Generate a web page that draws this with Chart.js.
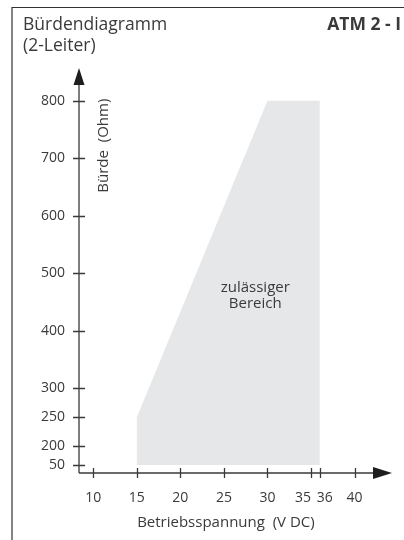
<!DOCTYPE html>
<html><head><meta charset="utf-8">
<script src="https://cdn.jsdelivr.net/npm/chart.js@4/dist/chart.umd.min.js"></script>
<style>
html,body{margin:0;padding:0;background:#fff;}
canvas{display:block;}
</style></head><body>
<canvas id="c" width="404" height="540"></canvas>
<script>
// ---- data ----
const voltageTicks = [10, 15, 20, 25, 30, 35, 36, 40];
const loadTicks = [50, 200, 250, 300, 400, 500, 600, 700, 800];
const areaVoltage = [15, 15, 30, 36, 36, 15];
const areaLoad = [50, 250, 800, 800, 50, 50];
const titleLines = ['Bürdendiagramm', '(2-Leiter)'];
const modelLabel = 'ATM 2 - I';
const xTitle = 'Betriebsspannung  (V DC)';
const yTitle = 'Bürde  (Ohm)';
const areaLabel = ['zulässiger', 'Bereich'];
const areaLabelVoltage = 28.6;
const areaLabelLoad = 464;

// ---- styling ----
const FONT = "'Open Sans', 'DejaVu Sans', sans-serif";
const INK = '#3a3a3a';
const FILL = '#e6e7e8';
const labelNudge = {'35': -8, '36': 5};

// piecewise (broken) load axis: below BREAK the scale is compressed
const BREAK = 200, COMPRESS = 0.22;
class PiecewiseScale extends Chart.LinearScale {
  _tr(v) { return v >= BREAK ? v : BREAK - (BREAK - v) * COMPRESS; }
  _inv(t) { return t >= BREAK ? t : BREAK - (BREAK - t) / COMPRESS; }
  getPixelForValue(value) {
    const a = this._tr(this.min), b = this._tr(this.max);
    return this.getPixelForDecimal((this._tr(value) - a) / (b - a));
  }
  getValueForPixel(pixel) {
    const a = this._tr(this.min), b = this._tr(this.max);
    return this._inv(a + this.getDecimalForPixel(pixel) * (b - a));
  }
}
PiecewiseScale.id = 'piecewise';
PiecewiseScale.defaults = Chart.LinearScale.defaults;
Chart.register(PiecewiseScale);

const decor = {
  id: 'decor',
  beforeDraw(chart) {
    const items = chart.scales.x.getLabelItems();
    items.forEach(it => {
      if (it._adj) return;
      const n = labelNudge[String(it.label)];
      if (n) it.options.translation[0] += n;
      it._adj = true;
    });
  },
  afterDatasetsDraw(chart) {
    const ctx = chart.ctx;
    const {left, right, top, bottom} = chart.chartArea;
    const xs = chart.scales.x, ys = chart.scales.y;
    ctx.save();
    // frame
    ctx.strokeStyle = '#333'; ctx.lineWidth = 1.2;
    ctx.beginPath();
    ctx.moveTo(12, 540); ctx.lineTo(12, 7.5); ctx.lineTo(404, 7.5);
    ctx.stroke();
    // axes
    ctx.strokeStyle = '#3a3a3a'; ctx.lineWidth = 1.3;
    ctx.beginPath();
    ctx.moveTo(left, bottom); ctx.lineTo(right - 10, bottom);
    ctx.moveTo(left, bottom); ctx.lineTo(left, top + 10);
    ys.ticks.forEach(t => {
      const p = Math.round(ys.getPixelForValue(t.value)) + 0.5;
      ctx.moveTo(left - 6, p); ctx.lineTo(left + 6, p);
    });
    xs.ticks.forEach(t => {
      const p = Math.round(xs.getPixelForValue(t.value)) + 0.5;
      ctx.moveTo(p, bottom - 5); ctx.lineTo(p, bottom + 5);
    });
    ctx.stroke();
    // arrow heads
    ctx.fillStyle = '#1e1e1e';
    ctx.beginPath();
    ctx.moveTo(right, bottom); ctx.lineTo(right - 19, bottom - 6); ctx.lineTo(right - 19, bottom + 6); ctx.closePath();
    ctx.fill();
    ctx.beginPath();
    ctx.moveTo(left, top); ctx.lineTo(left - 5.5, top + 17); ctx.lineTo(left + 5.5, top + 17); ctx.closePath();
    ctx.fill();
    // texts
    ctx.fillStyle = INK;
    ctx.textBaseline = 'alphabetic';
    ctx.font = '17.5px ' + FONT;
    ctx.textAlign = 'left';
    ctx.fillText(titleLines[0], 23, 30);
    ctx.fillText(titleLines[1], 23, 51);
    ctx.font = 'bold 17.5px ' + FONT;
    ctx.textAlign = 'right';
    ctx.fillText(modelLabel, 401, 30);
    // x title
    ctx.font = '15px ' + FONT;
    ctx.textAlign = 'center';
    ctx.fillText(xTitle, xs.getPixelForValue(25) + 2, 527);
    // y title (rotated)
    ctx.save();
    ctx.translate(left + 29, ys.getPixelForValue(722));
    ctx.rotate(-Math.PI / 2);
    ctx.font = '15px ' + FONT;
    ctx.textAlign = 'center';
    ctx.fillText(yTitle, 0, 0);
    ctx.restore();
    // area label
    ctx.font = '15px ' + FONT;
    ctx.textAlign = 'center';
    const ax = xs.getPixelForValue(areaLabelVoltage), ay = ys.getPixelForValue(areaLabelLoad);
    ctx.fillText(areaLabel[0], ax, ay - 2);
    ctx.fillText(areaLabel[1], ax, ay + 14);
    ctx.restore();
  }
};

new Chart(document.getElementById('c'), {
  type: 'scatter',
  data: {
    datasets: [{
      data: areaVoltage.map((v, i) => ({x: v, y: areaLoad[i]})),
      showLine: true,
      fill: 'shape',
      backgroundColor: FILL,
      borderColor: 'transparent',
      borderWidth: 0,
      pointRadius: 0,
      tension: 0
    }]
  },
  options: {
    responsive: false,
    animation: false,
    devicePixelRatio: 1,
    layout: {padding: {top: 68, right: 12, left: 0, bottom: 0}},
    plugins: {legend: {display: false}, tooltip: {enabled: false}, title: {display: false}},
    scales: {
      x: {
        type: 'linear', min: 8.36, max: 44.3,
        afterBuildTicks: s => { s.ticks = voltageTicks.map(v => ({value: v})); },
        afterFit: s => { s.height = 67; },
        grid: {display: false, drawTicks: false},
        border: {display: false},
        ticks: {autoSkip: false, maxRotation: 0, padding: 17, color: INK,
                font: {family: FONT, size: 14}, callback: v => String(v)}
      },
      y: {
        type: 'piecewise', min: -13, max: 857,
        afterBuildTicks: s => { s.ticks = loadTicks.map(v => ({value: v})); },
        afterFit: s => { s.width = 79; },
        grid: {display: false, drawTicks: false},
        border: {display: false},
        ticks: {autoSkip: false, padding: 14, color: INK,
                font: {family: FONT, size: 14}, callback: v => String(v)}
      }
    }
  },
  plugins: [decor]
});
</script>
</body></html>
